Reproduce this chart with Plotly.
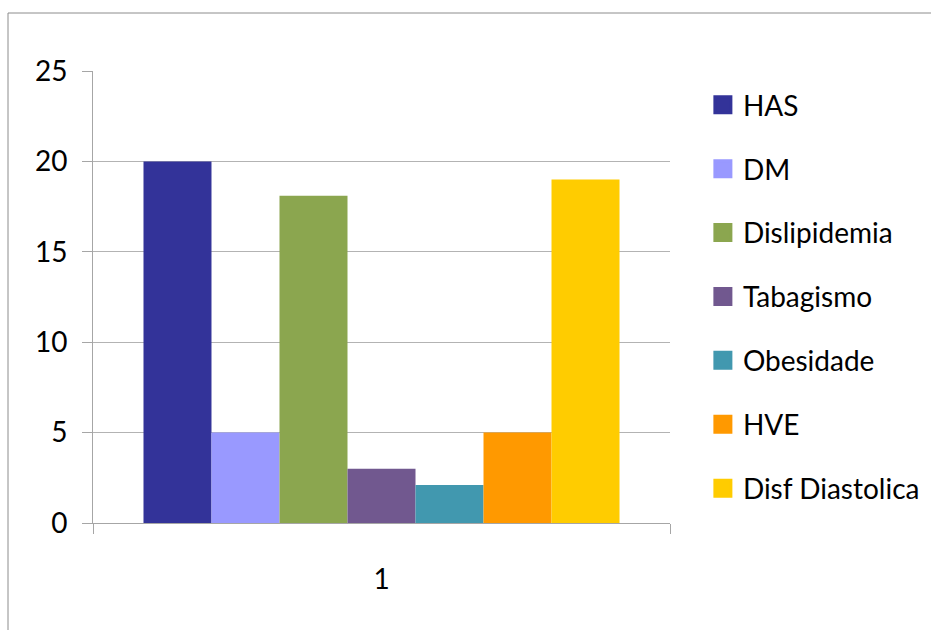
import plotly.graph_objects as go

# Category on the x axis and one series per risk factor
categories = ["1"]
series_names = ["HAS", "DM", "Dislipidemia", "Tabagismo", "Obesidade", "HVE", "Disf Diastolica"]
series_values = [20, 5, 18.1, 3, 2.1, 5, 19]
series_colors = ["#333399", "#9999FF", "#8BA64F", "#71588F", "#4198AF", "#FF9900", "#FFCC00"]
y_ticks = [0, 5, 10, 15, 20, 25]

FONT = "Lato, Carlito, Calibri, sans-serif"

fig = go.Figure()
for i, (name, val, col) in enumerate(zip(series_names, series_values, series_colors)):
    fig.add_trace(go.Bar(
        x=categories, y=[val], name=name,
        marker=dict(color=col, line=dict(width=0)),
        showlegend=False,
    ))
    # legend swatch drawn as a square marker
    fig.add_trace(go.Scatter(
        x=[None], y=[None], name=name, mode="markers",
        marker=dict(symbol="square", size=19, color=col,
                    line=dict(color=col, width=3)),
        legendgroup=f"g{i}", showlegend=True,
    ))

fig.update_layout(
    width=931, height=630,
    margin=dict(l=93, r=261, t=71, b=107, autoexpand=False),
    paper_bgcolor="white", plot_bgcolor="white",
    barmode="group", bargap=0.175, bargroupgap=0,
    font=dict(family=FONT, size=28, color="black"),
    legend=dict(
        x=1.057, xanchor="left", y=0.98, yanchor="top",
        traceorder="grouped", tracegroupgap=24.5,
        font=dict(family=FONT, size=28, color="black"),
        itemwidth=30, bgcolor="rgba(0,0,0,0)",
    ),
    xaxis=dict(
        type="category", range=[-0.5, 0.5],
        showline=True, linecolor="#A6A6A6", linewidth=1,
        ticks="outside", tickson="boundaries", ticklen=10, tickcolor="#A6A6A6",
        showgrid=False, ticklabelstandoff=31,
        tickfont=dict(family=FONT, size=28, color="black"),
    ),
    yaxis=dict(
        range=[0, 25], tickvals=y_ticks,
        showline=True, linecolor="#A6A6A6", linewidth=1,
        ticks="outside", ticklen=10, tickcolor="#A6A6A6",
        showgrid=True, gridcolor="#B3B3B3", gridwidth=1,
        zeroline=False, ticklabelstandoff=9,
        tickfont=dict(family=FONT, size=28, color="black"),
    ),
    shapes=[
        # outer chart frame
        dict(type="line", xref="paper", yref="paper",
             x0=-0.1473, x1=-0.1473, y0=-0.3, y1=1.1283,
             line=dict(color="#8C8C8C", width=1)),
        dict(type="line", xref="paper", yref="paper",
             x0=-0.1473, x1=1.6, y0=1.1283, y1=1.1283,
             line=dict(color="#8C8C8C", width=1)),
    ],
)

fig.write_html("out.html")
